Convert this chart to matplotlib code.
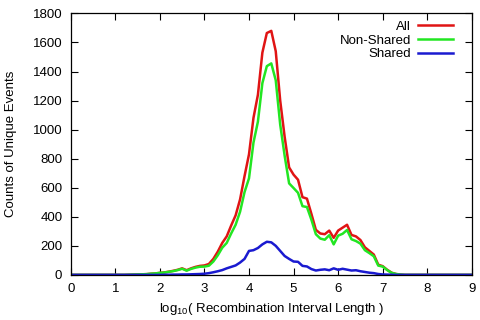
import numpy as np
import matplotlib
matplotlib.use('Agg')
import matplotlib.pyplot as plt

plt.rcParams['font.family'] = ['Liberation Sans', 'DejaVu Sans']
plt.rcParams['mathtext.default'] = 'regular'

# bin centres, log10 of interval length (0.0 .. 9.0 in steps of 0.1)
log_len = np.round(np.arange(0, 91) * 0.1, 1)

# counts, from x = 1.3 up to 7.4 (zeros elsewhere)
all_mid = [1, 2, 3, 4, 5, 8, 10, 14, 17, 22, 28, 35, 45, 32, 45, 55, 62, 65, 75,
           110, 160, 220, 265, 340, 410, 520, 680, 830, 1080, 1240, 1530, 1665,
           1680, 1540, 1200, 950, 740, 690, 655, 535, 525, 420, 310, 285, 280,
           305, 255, 305, 325, 345, 275, 265, 240, 190, 165, 140, 70, 60, 35,
           15, 6, 2]
nonshared_mid = [1, 2, 3, 4, 5, 8, 10, 14, 16, 21, 26, 33, 42, 29, 41, 50, 56,
                 57, 63, 92, 135, 187, 220, 285, 345, 435, 570, 665, 910, 1055,
                 1320, 1437, 1456, 1340, 1035, 820, 630, 598, 565, 473, 467, 380,
                 280, 250, 242, 273, 210, 270, 283, 309, 245, 233, 215, 170, 150,
                 128, 64, 57, 33, 14, 6, 2]
shared_mid = [0, 0, 0, 0, 0, 0, 0, 0, 1, 1, 2, 2, 3, 3, 4, 5, 6, 8, 12, 18, 25,
              33, 45, 55, 65, 85, 110, 165, 170, 185, 210, 228, 224, 200, 165,
              130, 110, 92, 90, 62, 58, 40, 30, 35, 38, 32, 45, 35, 42, 36, 30,
              32, 25, 20, 15, 12, 6, 3, 2, 1, 0, 0]

pad_left = [0] * 13   # x = 0.0 .. 1.2
pad_right = [0] * 16  # x = 7.5 .. 9.0
all_events = pad_left + all_mid + pad_right
nonshared = pad_left + nonshared_mid + pad_right
shared = pad_left + shared_mid + pad_right

fig = plt.figure(figsize=(4.81, 3.2), dpi=100)
ax = fig.add_axes([0.147, 0.141, 0.834, 0.817])

ax.plot(log_len, all_events, color='#e01414', lw=1.8, label='All')
ax.plot(log_len, nonshared, color='#22e622', lw=1.8, label='Non-Shared')
ax.plot(log_len, shared, color='#1a1ad0', lw=1.8, label='Shared')

ax.set_xlim(0, 9)
ax.set_ylim(0, 1800)
ax.set_xticks(range(0, 10))
ax.set_yticks(range(0, 1801, 200))
ax.tick_params(direction='in', top=True, right=True, length=5, width=0.8,
               labelsize=9.5, pad=6)
for s in ax.spines.values():
    s.set_linewidth(0.9)

ax.set_xlabel('log$_{10}$( Recombination Interval Length )', fontsize=9.5, labelpad=4)
ax.set_ylabel('Counts of Unique Events', fontsize=9.5, labelpad=11.5)

ax.legend(loc='upper right', bbox_to_anchor=(0.975, 1.008), frameon=False,
          markerfirst=False, fontsize=9.5, handlelength=2.6, labelspacing=0.12,
          borderaxespad=0.3, handletextpad=0.55)

fig.savefig('out.png', dpi=100)
